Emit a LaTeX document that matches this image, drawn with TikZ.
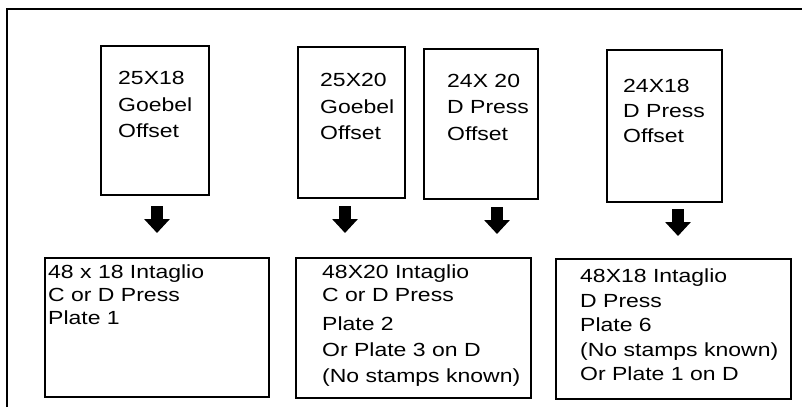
\documentclass[tikz,border=0pt]{standalone}
\usepackage{fontspec}
\setmainfont{Liberation Sans}[FakeStretch=1.21]
\usetikzlibrary{arrows.meta}
\tikzset{
  box/.style={draw=black, line width=1.8pt, anchor=north west, inner sep=0pt},
  frameline/.style={draw=black, line width=1.8pt},
  txt/.style={anchor=base west, inner sep=0pt, font=\fontsize{19}{22}\selectfont},
  fatarrow/.style={line width=12pt, line cap=butt, -{Triangle[width=25pt,length=14pt]}}
}
\begin{document}
\begin{tikzpicture}[x=1pt,y=-1pt]
\useasboundingbox (0,0) rectangle (802,407);
\fill[white] (0,0) rectangle (802,407);
% outer frame (only top and left visible)
\coordinate (fbl) at (7,407);
\coordinate (ftl) at (7,9);
\coordinate (ftr) at (802,9);
\draw[frameline] (fbl) -- (ftl) -- (ftr);
% top boxes
\node[box, minimum width=108, minimum height=149] (t1) at (100,45) {};
\node[box, minimum width=107, minimum height=151] (t2) at (297,46) {};
\node[box, minimum width=114, minimum height=150] (t3) at (423,48) {};
\node[box, minimum width=115, minimum height=152] (t4) at (606,49) {};
% bottom boxes
\node[box, minimum width=224, minimum height=139] (b1) at (44,257) {};
\node[box, minimum width=235, minimum height=140] (b2) at (295,257) {};
\node[box, minimum width=235, minimum height=140] (b3) at (555,258) {};
% texts
\foreach \y/\t [count=\i] in {84/25X18, 111/Goebel, 137/Offset}
  \node[txt] (t1l\i) at (118,\y) {\t};
\foreach \y/\t [count=\i] in {86/25X20, 113/Goebel, 139/Offset}
  \node[txt] (t2l\i) at (320,\y) {\t};
\foreach \y/\t [count=\i] in {87/24X 20, 113/D Press, 140/Offset}
  \node[txt] (t3l\i) at (447,\y) {\t};
\foreach \y/\t [count=\i] in {92/24X18, 117/D Press, 142/Offset}
  \node[txt] (t4l\i) at (623,\y) {\t};
\foreach \y/\t [count=\i] in {278/48 x 18 Intaglio, 301/C or D Press, 324/Plate 1}
  \node[txt] (b1l\i) at (48,\y) {\t};
\foreach \y/\t [count=\i] in {278/48X20 Intaglio, 301/C or D Press, 330/Plate 2, 356/Or Plate 3 on D, 382/(No stamps known)}
  \node[txt] (b2l\i) at (322,\y) {\t};
\foreach \y/\t [count=\i] in {282/48X18 Intaglio, 307/D Press, 331/Plate 6, 356/(No stamps known), 380/Or Plate 1 on D}
  \node[txt] (b3l\i) at (580,\y) {\t};
% arrows
\coordinate (a1s) at (157,206); \coordinate (a1e) at (157,233);
\coordinate (a2s) at (345,206); \coordinate (a2e) at (345,233);
\coordinate (a3s) at (497,207); \coordinate (a3e) at (497,234);
\coordinate (a4s) at (678,209); \coordinate (a4e) at (678,236);
\draw[fatarrow] (a1s) -- (a1e);
\draw[fatarrow] (a2s) -- (a2e);
\draw[fatarrow] (a3s) -- (a3e);
\draw[fatarrow] (a4s) -- (a4e);
\end{tikzpicture}
\end{document}
